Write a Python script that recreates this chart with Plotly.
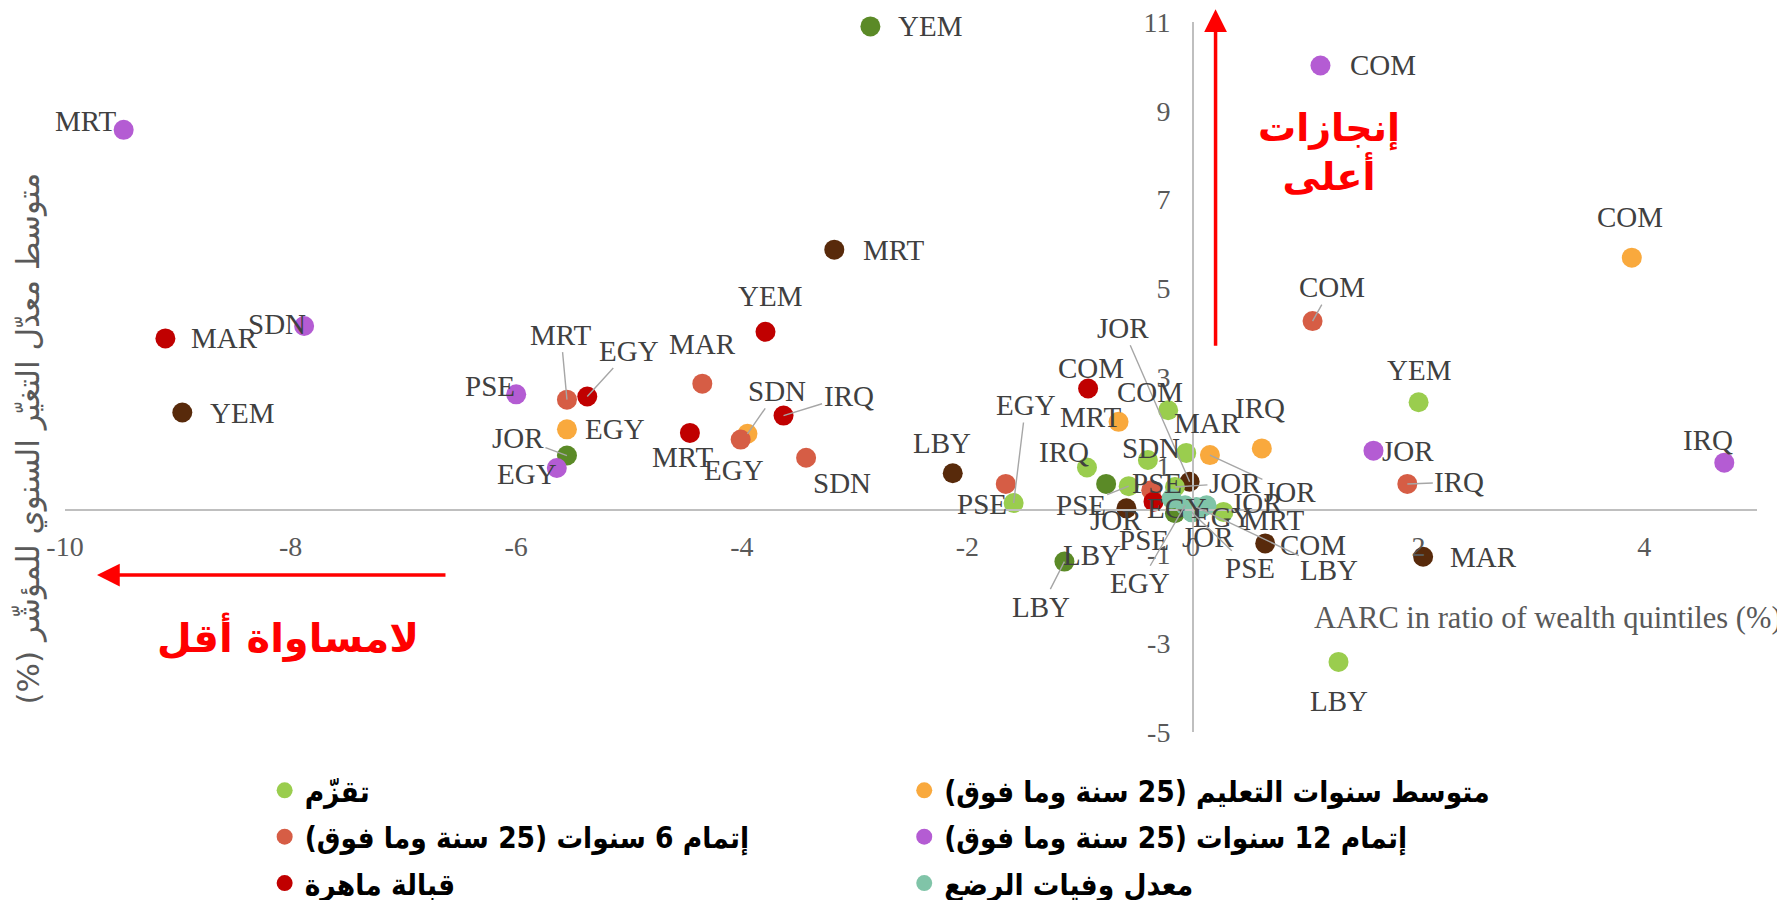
import plotly.graph_objects as go

# ---------------- data ----------------
# x: AARC in ratio of wealth quintiles (%), y: average annual rate of change of indicator (%)
stunting_labels = ["YEM", "LBY", "COM", "IRQ", "SDN", "MAR", "EGY", "PSE", "JOR", "EGY"]
stunting_x = [2.00, 1.29, -0.22, -0.94, -0.40, -0.06, -1.59, -0.57, -0.16, 0.27]
stunting_y = [2.43, -3.42, 2.25, 0.96, 1.13, 1.29, 0.16, 0.54, 0.52, -0.04]

schooling_labels = ["COM", "EGY", "SDN", "MRT", "IRQ", "JOR"]
schooling_x = [3.89, -5.55, -3.95, -0.66, 0.61, 0.15]
schooling_y = [5.69, 1.82, 1.72, 1.99, 1.39, 1.24]

six_years_labels = ["MRT", "MAR", "EGY", "SDN", "COM", "IRQ", "PSE", "PSE"]
six_years_x = [-5.55, -4.35, -4.01, -3.43, 1.06, 1.90, -1.66, -0.37]
six_years_y = [2.49, 2.85, 1.59, 1.18, 4.26, 0.59, 0.59, 0.45]

midwife_labels = ["MAR", "EGY", "YEM", "MRT", "IRQ", "COM", "PSE"]
midwife_x = [-9.11, -5.37, -3.79, -4.46, -3.63, -0.93, -0.35]
midwife_y = [3.87, 2.56, 4.02, 1.74, 2.13, 2.74, 0.19]

twelve_years_labels = ["MRT", "SDN", "PSE", "EGY", "COM", "JOR", "IRQ"]
twelve_years_x = [-9.48, -7.88, -6.00, -5.64, 1.13, 1.60, 4.71]
twelve_years_y = [8.57, 4.15, 2.61, 0.95, 10.02, 1.34, 1.07]

darkgreen_labels = ["YEM", "JOR", "LBY", "LBY", "JOR"]
darkgreen_x = [-2.86, -5.55, -1.14, -0.77, -0.16]
darkgreen_y = [10.90, 1.23, -1.16, 0.59, -0.07]

brown_labels = ["MRT", "YEM", "LBY", "JOR", "JOR", "COM", "MAR"]
brown_x = [-3.18, -8.96, -2.13, -0.59, -0.03, 0.64, 2.04]
brown_y = [5.87, 2.20, 0.83, 0.04, 0.64, -0.75, -1.05]

infant_labels = ["EGY", "LBY", "JOR", "PSE", "MRT", "EGY"]
infant_x = [-0.19, 0.03, 0.12, -0.01, 0.08, -0.07]
infant_y = [0.26, 0.07, 0.11, -0.05, 0.06, 0.11]

x_ticks = [-10, -8, -6, -4, -2, 0, 2, 4]
x_ticktext = ["-10", "-8", "-6", "-4", "-2", "0", "2", "4"]
y_ticks = [-5, -3, -1, 1, 3, 5, 7, 9, 11]
y_ticktext = ["-5", "-3", "-1", "1", "3", "5", "7", "9", "11"]

RLM = "\u200f"
name_stunting = "تقزّم"
name_six = "إتمام 6 سنوات (25 سنة وما فوق)"
name_midwife = "قبالة ماهرة"
name_schooling = "متوسط سنوات التعليم (25 سنة وما فوق)"
name_twelve = "إتمام 12 سنوات (25 سنة وما فوق)"
name_infant = "معدل وفيات الرضع"
y_title = "متوسط معدّل التغيّر السنوي للمؤشّر (%)"
x_title = "AARC in ratio of wealth quintiles (%)"

# ---------------- label placement (pixel offsets dx, dy-down, leader line) ----------------
label_pos = {
    "stunting": [(0, -32, 0), (0, 39, 0), (-18, -18, 0), (-23, -16, 0), (3, -12, 0), (21, -30, 0),
                 (12, -98, 1), (-48, 19, 1), (60, -4, 1), (0, 5, 0)],
    "schooling": [(-2, -41, 0), (48, 0, 0), (30, -43, 1), (-28, -5, 0), (-2, -40, 0), (80, 37, 1)],
    "six": [(-6, -65, 1), (0, -40, 0), (-7, 30, 0), (36, 25, 0), (19, -34, 1), (52, -2, 1),
            (-24, 20, 0), (6, -7, 0)],
    "midwife": [(59, 0, 0), (42, -46, 1), (5, -36, 0), (-7, 24, 0), (65, -20, 1), (3, -21, 0), (-10, 38, 0)],
    "twelve": [(-38, -9, 0), (-27, -2, 0), (-26, -8, 0), (-30, 6, 0), (63, 0, 0), (35, 0, 0), (-16, -23, 0)],
    "darkgreen": [(60, 0, 0), (-49, -18, 1), (-23, 45, 1), (-14, 71, 0), (33, 24, 0)],
    "brown": [(59, 0, 0), (60, 0, 0), (-11, -30, 0), (-10, 12, 0), (-67, -154, 1), (48, 2, 0), (60, 0, 0)],
    "infant": [(5, 9, 0), (133, 63, 1), (50, -2, 0), (58, 56, 1), (71, 13, 0), (-45, 78, 1)],
}

series = [
    # key, name, labels, x, y, color, legend
    ("brown", "brown", brown_labels, brown_x, brown_y, "#582a0b", None),
    ("darkgreen", "darkgreen", darkgreen_labels, darkgreen_x, darkgreen_y, "#5b8a27", None),
    ("schooling", name_schooling, schooling_labels, schooling_x, schooling_y, "#f9a93d", "legend2"),
    ("twelve", name_twelve, twelve_years_labels, twelve_years_x, twelve_years_y, "#b45cd3", "legend2"),
    ("stunting", name_stunting, stunting_labels, stunting_x, stunting_y, "#9acd4e", "legend"),
    ("six", name_six, six_years_labels, six_years_x, six_years_y, "#d65d45", "legend"),
    ("midwife", name_midwife, midwife_labels, midwife_x, midwife_y, "#c00000", "legend"),
    ("infant", name_infant, infant_labels, infant_x, infant_y, "#80c4a8", "legend2"),
]

fig = go.Figure()
annotations = []
label_font = dict(family="Liberation Serif", size=29, color="#404040")

for i, (key, name, labels, xs, ys, color, leg) in enumerate(series):
    tr = dict(
        x=xs, y=ys, text=labels, mode="markers",
        marker=dict(size=20, color=color, line=dict(width=0)),
        name=RLM + name + RLM, cliponaxis=False,
        hovertemplate="%{text}: %{x}, %{y}<extra></extra>",
        legendgroup=key,
    )
    if leg is None:
        tr["showlegend"] = False
    else:
        tr["legend"] = leg
    fig.add_trace(go.Scatter(**tr))
    for lab, xv, yv, (dx, dy, leader) in zip(labels, xs, ys, label_pos[key]):
        if leader:
            annotations.append(dict(
                x=xv, y=yv, xref="x", yref="y", text=lab, showarrow=True,
                ax=dx, ay=dy, arrowhead=0, arrowwidth=1.4, arrowcolor="#a6a6a6",
                standoff=0, startstandoff=0, font=label_font))
        else:
            annotations.append(dict(
                x=xv, y=yv, xref="x", yref="y", text=lab, showarrow=False,
                xshift=dx, yshift=-dy, xanchor="center", yanchor="middle", font=label_font))

# axis titles
annotations.append(dict(
    x=-0.0216, y=0.414, xref="paper", yref="paper", text=RLM + y_title + RLM, showarrow=False,
    textangle=-90, xanchor="center", yanchor="middle",
    font=dict(family="DejaVu Sans", size=31, color="#595959")))
annotations.append(dict(
    x=0.8765, y=0.1605, xref="paper", yref="paper", text=x_title, showarrow=False,
    xanchor="center", yanchor="middle",
    font=dict(family="Liberation Serif", size=30.5, color="#595959")))

# red arrows and notes
annotations.append(dict(
    x=0.680, y=1.0179, xref="paper", yref="paper", text="", showarrow=True,
    ax=0, ay=338, axref="pixel", ayref="pixel", arrowhead=2, arrowsize=1.3,
    arrowwidth=3.5, arrowcolor="#ff0000", standoff=0))
annotations.append(dict(
    x=0.0189, y=0.221, xref="paper", yref="paper", text="", showarrow=True,
    ax=350, ay=0, axref="pixel", ayref="pixel", arrowhead=2, arrowsize=1.3,
    arrowwidth=3.5, arrowcolor="#ff0000", standoff=0))
annotations.append(dict(
    x=0.747, y=0.816, xref="paper", yref="paper", text="إنجازات<br>أعلى", showarrow=False,
    xanchor="center", yanchor="middle", align="center",
    font=dict(family="DejaVu Sans", size=38, color="#ff0000", weight="bold")))
annotations.append(dict(
    x=0.1318, y=0.1337, xref="paper", yref="paper", text="لامساواة أقل", showarrow=False,
    xanchor="center", yanchor="middle",
    font=dict(family="DejaVu Sans", size=40, color="#ff0000", weight="bold")))

tickfont = dict(family="Liberation Serif", size=28, color="#595959")
legend_font = dict(family="DejaVu Sans Condensed, DejaVu Sans", size=29.5, color="#000000", weight="bold")

fig.update_layout(
    width=1785, height=900,
    margin=dict(l=57, r=36, t=14, b=176, autoexpand=False),
    plot_bgcolor="white", paper_bgcolor="white",
    xaxis=dict(range=[-10, 5], tickvals=x_ticks, ticktext=x_ticktext, showgrid=False, zeroline=False,
               showline=True, linecolor="#bfbfbf", linewidth=2, anchor="free", position=5 / 16,
               ticks="", ticklabelstandoff=11, tickfont=tickfont, automargin=False,
               ticklabeloverflow="allow"),
    yaxis=dict(range=[-5, 11], tickvals=y_ticks, ticktext=y_ticktext, showgrid=False, zeroline=False,
               showline=True, linecolor="#bfbfbf", linewidth=2, anchor="free", position=10 / 15,
               ticks="", ticklabelstandoff=16, tickfont=tickfont, automargin=False,
               ticklabeloverflow="allow"),
    showlegend=True,
    legend=dict(x=0.118, y=-0.046, xanchor="left", yanchor="top", orientation="v",
                font=legend_font, tracegroupgap=5, bgcolor="rgba(0,0,0,0)"),
    legend2=dict(x=0.496, y=-0.046, xanchor="left", yanchor="top", orientation="v",
                 font=legend_font, tracegroupgap=5, bgcolor="rgba(0,0,0,0)"),
    annotations=annotations,
)

fig.write_html("out.html")
